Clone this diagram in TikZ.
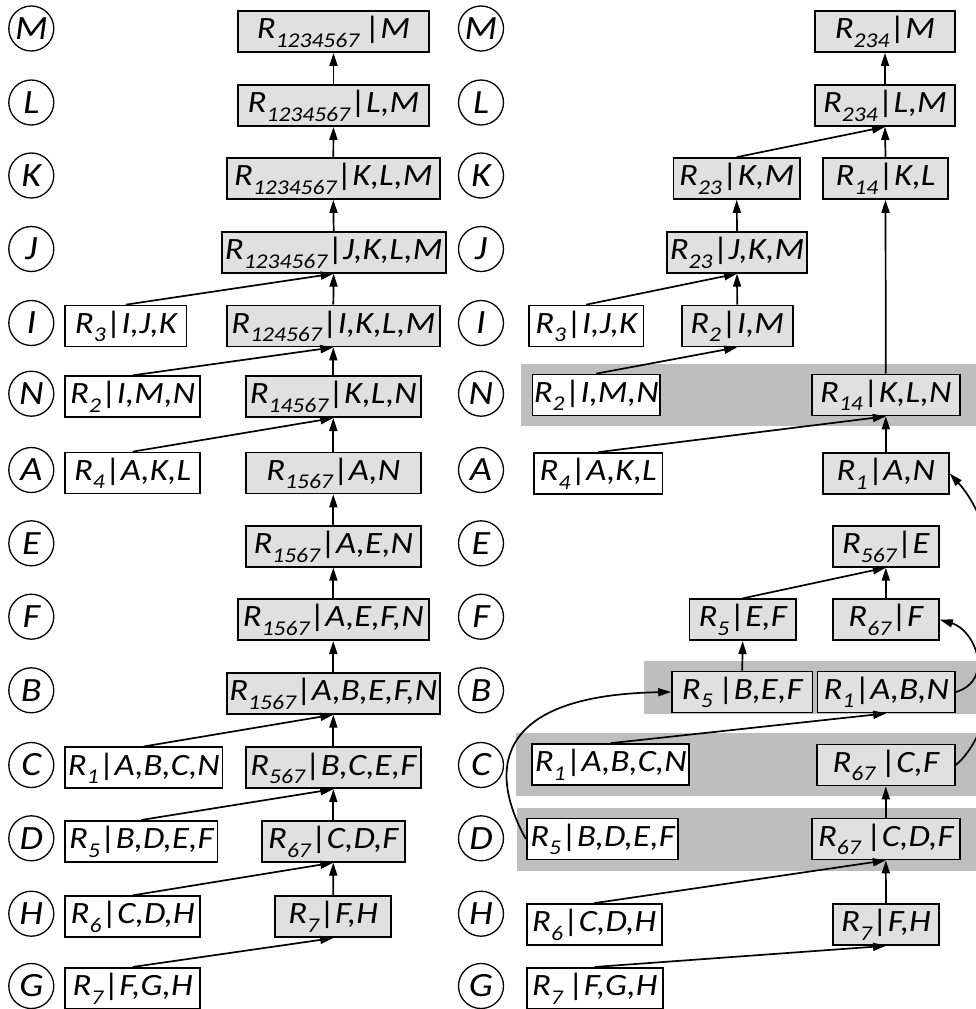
\documentclass[tikz,border=0pt]{standalone}
\usepackage{fontspec}
\newfontfamily\labfont[FakeStretch=1.12]{Carlito}
\usetikzlibrary{arrows.meta}
\definecolor{boxgray}{RGB}{224,224,224}
\definecolor{bandgray}{RGB}{190,190,190}
\newcommand\sbx[1]{\raisebox{-0.28em}{\fontsize{21}{21}\selectfont #1}}
\newcommand\vb{{\upshape|}}
\tikzset{
  rbox/.style={draw, line width=1.7pt, minimum height=41pt, minimum width=#1, inner xsep=1pt, inner ysep=0pt,
    text height=23pt, text depth=8.6pt, font=\labfont\itshape\fontsize{31}{33}\selectfont},
  gbox/.style={rbox=#1, fill=boxgray},
  wbox/.style={rbox=#1, fill=white},
  vc/.style={circle, draw, line width=1.3pt, minimum size=45pt, inner sep=0pt,
    font=\labfont\itshape\fontsize{34}{34}\selectfont},
  conn/.style={line width=1.7pt, -{Triangle[length=13pt,width=8pt]}},
  band/.style={fill=bandgray, draw=none}
}
\begin{document}
\begin{tikzpicture}[x=1pt,y=-1pt]
\useasboundingbox (0,0) rectangle (976,1009);
\begin{scope}
\clip (0,0) rectangle (976,1009);
% bands
\path[band] (520.7,364) rectangle (976,426);
\path[band] (644,661) rectangle (976,714.3);
\path[band] (515.7,732.7) rectangle (976,795.7);
\path[band] (516.7,807.7) rectangle (976,870.7);

% circles
\foreach \n/\y in {M/28.5,L/102.5,K/175.5,J/249,I/323,N/393.7,A/470,E/543.3,F/616.7,B/690.3,C/765,D/838.3,H/913.7,G/986}{
  \node[vc] (c\n) at (31.3,\y) {\n};
  \node[vc] (d\n) at (481,\y) {\n};
}

% left centre column
\node[gbox=191pt] (lM) at (333.5,31.5) {R\sbx{1234567}\,\vb M};
\node[gbox=191pt] (lL) at (333.5,105.5) {R\sbx{1234567}\vb L,M};
\node[gbox=213pt] (lK) at (333.3,178.5) {R\sbx{1234567}\vb K,L,M};
\node[gbox=224pt] (lJ) at (333.7,252.3) {R\sbx{1234567}\vb J,K,L,M};
\node[gbox=213pt] (lI) at (333.3,326) {R\sbx{124567}\vb I,K,L,M};
\node[gbox=175pt] (lN) at (333.3,396.7) {R\sbx{14567}\vb K,L,N};
\node[gbox=175pt] (lA) at (333.3,473) {R\sbx{1567}\vb A,N};
\node[gbox=175pt] (lE) at (333.3,546.3) {R\sbx{1567}\vb A,E,N};
\node[gbox=191pt] (lF) at (333.3,619.7) {R\sbx{1567}\vb A,E,F,N};
\node[gbox=213pt] (lB) at (333.3,693.3) {R\sbx{1567}\vb A,B,E,F,N};
\node[gbox=175pt] (lC) at (333.3,767.8) {R\sbx{567}\vb B,C,E,F};
\node[gbox=143pt] (lD) at (333.3,841.3) {R\sbx{67}\vb C,D,F};
\node[gbox=116pt] (lH) at (333.2,916.7) {R\sbx{7}\vb F,H};

% left side boxes
\node[wbox=121.4pt, anchor=west] (lsI) at (64.3,326) {R\sbx{3}\vb I,J,K};
\node[wbox=135pt, anchor=west] (lsN) at (64.3,396.7) {R\sbx{2}\vb I,M,N};
\node[wbox=135pt, anchor=west] (lsA) at (64.3,473) {R\sbx{4}\vb A,K,L};
\node[wbox=157.4pt, anchor=west] (lsC) at (64.3,767.8) {R\sbx{1}\vb A,B,C,N};
\node[wbox=152.4pt, anchor=west] (lsD) at (64.3,841.3) {R\sbx{5}\vb B,D,E,F};
\node[wbox=135pt, anchor=west] (lsH) at (64.3,916.7) {R\sbx{6}\vb C,D,H};
\node[wbox=135pt, anchor=west] (lsG) at (64.3,988.3) {R\sbx{7}\vb F,G,H};

% right column
\node[gbox=140pt] (rM) at (885,31.5) {R\sbx{234}\vb M};
\node[gbox=140pt] (rL) at (885,105.5) {R\sbx{234}\vb L,M};
\node[gbox=126.7pt] (rK1) at (736.7,178.5) {R\sbx{23}\vb K,M};
\node[gbox=125.6pt] (rK2) at (885.5,178.5) {R\sbx{14}\vb K,L};
\node[gbox=139.4pt] (rJ) at (737,252.3) {R\sbx{23}\vb J,K,M};
\node[wbox=114.3pt] (rI1) at (586.2,326) {R\sbx{3}\vb I,J,K};
\node[gbox=111pt] (rI2) at (737.2,326) {R\sbx{2}\vb I,M};
\node[wbox=127.7pt] (rN1) at (596.2,395) {R\sbx{2}\vb I,M,N};
\node[gbox=148.3pt] (rN2) at (885.8,395) {R\sbx{14}\vb K,L,N};
\node[wbox=128.3pt] (rA1) at (598.2,473.5) {R\sbx{4}\vb A,K,L};
\node[gbox=126.3pt] (rA2) at (885.8,473.5) {R\sbx{1}\vb A,N};
\node[gbox=106.3pt] (rE) at (885.8,546.3) {R\sbx{567}\vb E};
\node[gbox=106.7pt] (rF1) at (742.7,619.7) {R\sbx{5}\vb E,F};
\node[gbox=106.3pt] (rF2) at (885.8,619.7) {R\sbx{67}\vb F};
\node[gbox=140.3pt] (rB1) at (742.2,692) {R\sbx{5}\,\vb B,E,F};
\node[gbox=137.7pt] (rB2) at (886.2,692) {R\sbx{1}\vb A,B,N};
\node[wbox=157pt] (rC1) at (610.8,764.5) {R\sbx{1}\vb A,B,C,N};
\node[gbox=138.3pt] (rC2) at (885.8,765) {R\sbx{67}\,\vb C,F};
\node[wbox=151.6pt] (rD1) at (602.5,839) {R\sbx{5}\vb B,D,E,F};
\node[gbox=148.3pt] (rD2) at (885.8,839) {R\sbx{67}\,\vb C,D,F};
\node[wbox=135pt] (rH1) at (594.2,924.5) {R\sbx{6}\vb C,D,H};
\node[gbox=106.6pt] (rH2) at (886,924.5) {R\sbx{7}\vb F,H};
\node[wbox=136pt] (rG1) at (594.7,988.3) {R\sbx{7}\,\vb F,G,H};

% left connectors
\foreach \a/\b in {lL/lM,lK/lL,lJ/lK,lI/lJ,lsI/lJ,lN/lI,lsN/lI,lA/lN,lsA/lN,lE/lA,lF/lE,lB/lF,lC/lB,lsC/lB,lD/lC,lsD/lC,lH/lD,lsH/lD,lsG/lH}
  \draw[conn] (\a.north) -- (\b.south);
% right connectors
\foreach \a/\b in {rL/rM,rK1/rL,rK2/rL,rJ/rK1,rI1/rJ,rI2/rJ,rN1/rI2,rN2/rK2,rA1/rN2,rA2/rN2,rF1/rE,rF2/rE,rB1/rF1,rC1/rB2,rD2/rC2,rH1/rD2,rH2/rD2,rG1/rH2}
  \draw[conn] (\a.north) -- (\b.south);
% curved connectors
\draw[conn] (rD1.west) .. controls (485,765) and (500,695) .. (rB1.west);
\draw[conn] (rB2.east) .. controls (995,680) and (975,630) .. (rF2.east);
\draw[conn] (rC2.east) .. controls (1010,720) and (1015,545) .. (rA2.east);
\end{scope}
\end{tikzpicture}
\end{document}
